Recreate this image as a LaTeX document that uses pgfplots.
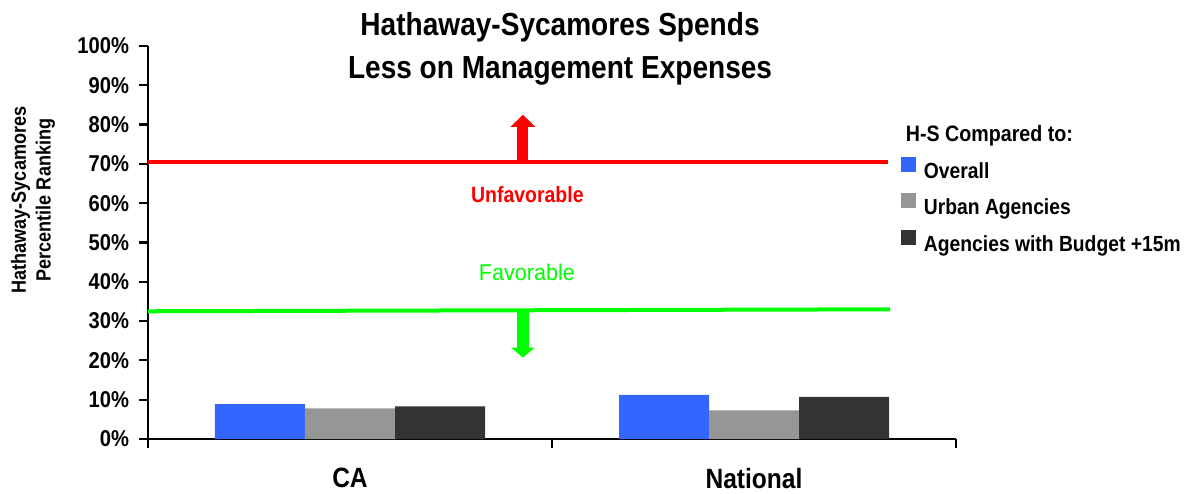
\documentclass[border=0pt]{standalone}
\usepackage{fontspec}
\setmainfont[FakeStretch=0.88]{Liberation Sans}
\newfontfamily\widefont[FakeStretch=0.95]{Liberation Sans}
\usepackage{pgfplots}
\pgfplotsset{compat=1.18}
\usetikzlibrary{arrows.meta}
\definecolor{barblue}{HTML}{3366FF}
\definecolor{bargray}{HTML}{969696}
\definecolor{bardark}{HTML}{333333}
\definecolor{hsgreen}{HTML}{00FF00}
\definecolor{hsred}{HTML}{FF0000}

\begin{document}
\begin{tikzpicture}
\begin{axis}[
    scale only axis, width=404bp, height=196.5bp,
    xmin=-0.5, xmax=1.5, ymin=0, ymax=100,
    clip=false,
    axis x line*=bottom, axis y line*=left,
    axis line style={-, line width=1.1bp, black},
    x axis line style={-}, y axis line style={-},
    xtick={-0.5,0.5,1.5}, xticklabels={},
    extra x ticks={0,1}, extra x tick labels={CA,National},
    extra x tick style={grid=none, major tick length=0pt, tick style={draw=none}},
    ytick={0,10,...,100},
    yticklabels={0\%,10\%,20\%,30\%,40\%,50\%,60\%,70\%,80\%,90\%,100\%},
    tick align=outside, major tick length=4.5bp,
    tick style={black, line width=1.1bp},
    xticklabel style={font=\fontsize{14}{16}\selectfont\bfseries, yshift=-11bp},
    yticklabel style={font=\fontsize{11.5}{13}\selectfont\bfseries, xshift=-1.5bp},
    legend style={draw=none, fill=none, at={(axis description cs:0.924,0.815)},
      anchor=north west, font=\fontsize{11}{13}\selectfont\bfseries,
      row sep=5.2bp, nodes={inner sep=1bp}},
    legend cell align=left,
]
\addlegendimage{empty legend}
\addlegendentry{\hspace*{-9bp}\fontsize{11.2}{12}\selectfont H-S Compared to:}

\addplot[ybar, bar width=45bp, bar shift=-45bp, fill=barblue, draw=none,
  legend image code/.code={\fill[barblue] (0bp,0bp) rectangle (7.5bp,7.5bp); \path (10.5bp,0bp);}]
  coordinates {(0,8.85) (1,11.2)};
\addlegendentry{Overall}
\addplot[ybar, bar width=45bp, bar shift=0bp, fill=bargray, draw=none,
  legend image code/.code={\fill[bargray] (0bp,0bp) rectangle (7.5bp,7.5bp); \path (10.5bp,0bp);}]
  coordinates {(0,7.8) (1,7.3)};
\addlegendentry{Urban Agencies}
\addplot[ybar, bar width=45bp, bar shift=45bp, fill=bardark, draw=none,
  legend image code/.code={\fill[bardark] (0bp,0bp) rectangle (7.5bp,7.5bp); \path (10.5bp,0bp);}]
  coordinates {(0,8.3) (1,10.7)};
\addlegendentry{Agencies with Budget +15m}

% threshold lines
\addplot[hsred, line width=1.9bp, forget plot] coordinates {(-0.5,70.5) (1.332,70.5)};
\addplot[hsgreen, line width=2bp, forget plot] coordinates {(-0.5,32.5) (1.337,33)};
% arrows
\addplot[hsred, line width=5.5bp, -{Triangle[width=12bp,length=6bp]}, forget plot]
  coordinates {(0.428,70.5) (0.428,82.5)};
\addplot[hsgreen, line width=6bp, -{Triangle[width=11.5bp,length=5bp]}, forget plot]
  coordinates {(0.428,32.7) (0.428,20.7)};

\node[hsred, font=\fontsize{11.1}{13}\selectfont\bfseries] at (axis cs:0.439,62.1) {Unfavorable};
\node[hsgreen, font=\fontsize{11.4}{13}\selectfont\widefont] at (axis cs:0.438,42.3) {Favorable};

\node[font=\fontsize{16}{21.5}\selectfont\bfseries, align=center]
  at (axis description cs:0.51,0.9936) {Hathaway-Sycamores Spends\\Less on Management Expenses};
\node[rotate=90, align=center, font=\fontsize{10.3}{12.5}\selectfont\bfseries]
  at (axis description cs:-0.1423,0.608) {Hathaway-Sycamores\\Percentile Ranking};
\end{axis}
\pgfresetboundingbox
\path (-74bp,-27.5bp) rectangle (520bp,219.5bp);
\end{tikzpicture}
\end{document}
